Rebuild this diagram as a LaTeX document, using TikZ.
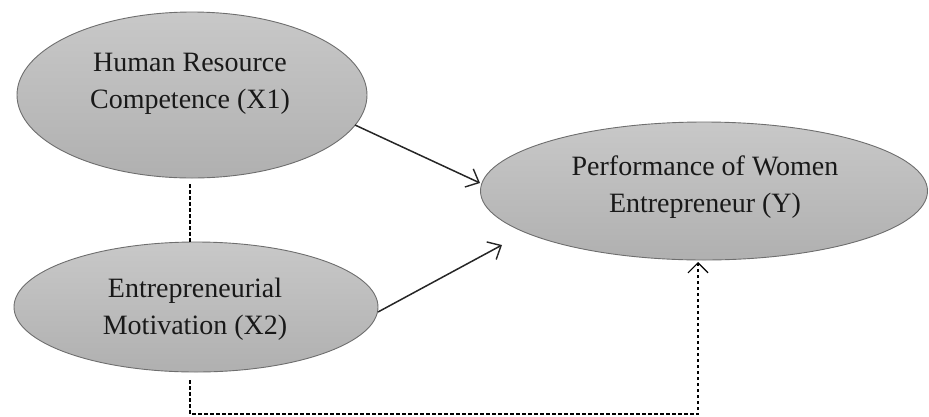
\documentclass[tikz,border=0pt]{standalone}
\usepackage{fontspec}
\setmainfont{Liberation Serif}
\usetikzlibrary{shapes.geometric,arrows.meta}
\begin{document}
\begin{tikzpicture}[x=1pt,y=-1pt,
  var/.style={ellipse, draw={rgb,255:red,110;green,110;blue,110}, line width=0.9pt, inner sep=0pt,
    top color={rgb,255:red,200;green,200;blue,200}, bottom color={rgb,255:red,176;green,176;blue,176}},
  lbl/.style={align=center, font=\fontsize{28}{37}\selectfont, text=black!90, inner sep=0pt},
  path/.style={draw=black!85, line width=1.5pt, -{Straight Barb[length=11pt,width=20pt,line width=1.4pt]}},
  corr/.style={draw=black, line width=1.3pt, dash pattern=on 3.5pt off 2.5pt},
  corrarrow/.style={corr, -{Straight Barb[length=10pt,width=20pt,line width=1.2pt,line cap=butt]}}]
\useasboundingbox (0,0) rectangle (929,416);
\node[var, minimum width=350pt, minimum height=166pt] (X1) at (192,95) {};
\node[var, minimum width=364pt, minimum height=130pt] (X2) at (196,307) {};
\node[var, minimum width=447pt, minimum height=138pt] (Y) at (704,191) {};
\node[lbl] (X1t) at (190,84) {Human Resource\\Competence (X1)};
\node[lbl] (X2t) at (195,309) {Entrepreneurial\\Motivation (X2)};
\node[lbl] (Yt) at (705,187) {Performance of Women\\Entrepreneur (Y)};
\coordinate (a1) at (355,125);
\coordinate (a1e) at (480,183);
\coordinate (a2) at (378,312);
\coordinate (a2e) at (502,245);
\draw[path] (a1) -- (a1e);
\draw[path] (a2) -- (a2e);
\coordinate (d1) at (190,184);
\coordinate (d2) at (190,243);
\draw[corr] (d1) -- (d2);
\coordinate (b1) at (190,380);
\coordinate (b2) at (190,414);
\coordinate (b3) at (698,414);
\coordinate (b4) at (698,262);
\draw[corrarrow] (b1) -- (b2) -- (b3) -- (b4);
\end{tikzpicture}
\end{document}
